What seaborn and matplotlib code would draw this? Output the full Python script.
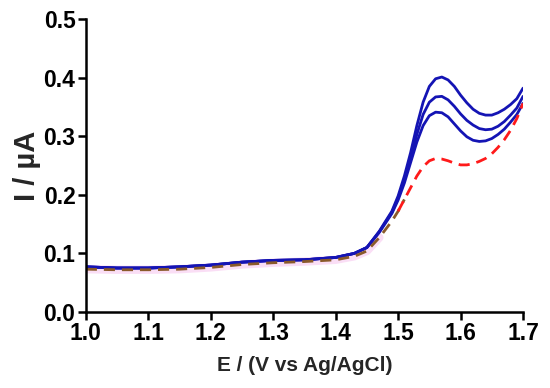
import matplotlib
matplotlib.use("Agg")
import matplotlib.pyplot as plt
import seaborn as sns
import pandas as pd

sns.set_theme(style="ticks")
plt.rcParams['font.family'] = ['Liberation Sans', 'DejaVu Sans']
plt.rcParams['font.weight'] = 'bold'

# potential (V vs Ag/AgCl)
E = [1.00, 1.05, 1.10, 1.15, 1.20, 1.25, 1.30, 1.35, 1.40, 1.43, 1.45, 1.47,
     1.49, 1.50, 1.51, 1.52, 1.53, 1.54, 1.55, 1.56, 1.57, 1.58, 1.59, 1.60,
     1.61, 1.62, 1.63, 1.64, 1.65, 1.66, 1.67, 1.68, 1.69, 1.70]

blue_top = [0.077, 0.075, 0.075, 0.077, 0.080, 0.085, 0.088, 0.089, 0.093, 0.100,
            0.110, 0.138, 0.172, 0.198, 0.232, 0.272, 0.318, 0.358, 0.385, 0.398,
            0.401, 0.396, 0.385, 0.370, 0.357, 0.346, 0.339, 0.336, 0.336, 0.340,
            0.346, 0.354, 0.364, 0.382]
blue_mid = [0.077, 0.075, 0.075, 0.077, 0.080, 0.085, 0.088, 0.089, 0.093, 0.100,
            0.110, 0.137, 0.170, 0.194, 0.226, 0.263, 0.303, 0.337, 0.358, 0.367,
            0.368, 0.362, 0.351, 0.338, 0.327, 0.319, 0.313, 0.311, 0.312, 0.317,
            0.325, 0.336, 0.348, 0.368]
blue_low = [0.077, 0.075, 0.075, 0.077, 0.080, 0.085, 0.088, 0.089, 0.093, 0.100,
            0.110, 0.136, 0.168, 0.191, 0.220, 0.255, 0.290, 0.318, 0.335, 0.341,
            0.340, 0.333, 0.321, 0.309, 0.299, 0.293, 0.291, 0.292, 0.296, 0.303,
            0.312, 0.324, 0.337, 0.356]
red = [0.073, 0.072, 0.072, 0.073, 0.076, 0.081, 0.084, 0.086, 0.089, 0.095,
       0.104, 0.127, 0.155, 0.172, 0.192, 0.212, 0.232, 0.248, 0.258, 0.262,
       0.261, 0.258, 0.254, 0.251, 0.251, 0.253, 0.257, 0.262, 0.270, 0.281,
       0.294, 0.310, 0.330, 0.356]

curves = {"a": blue_top, "b": blue_mid, "c": blue_low}
frames = [pd.DataFrame({"E": E, "I": v, "curve": k}) for k, v in curves.items()]
blue_df = pd.concat(frames)
red_df = pd.DataFrame({"E": E, "I": red})

fig = plt.figure(figsize=(5.5, 3.88), dpi=100)
ax = fig.add_axes([0.156, 0.196, 0.795, 0.755])

# faint pink halo along the baseline
sns.lineplot(data=red_df[red_df["E"] <= 1.47], x="E", y="I", color="#f7c8ef",
             linewidth=6, alpha=0.6, ax=ax, legend=False)
sns.lineplot(data=blue_df, x="E", y="I", units="curve", estimator=None,
             color="#1414b4", linewidth=2, ax=ax, legend=False)
sns.lineplot(data=red_df[red_df["E"] <= 1.51], x="E", y="I", color="#8a5a2a",
             linewidth=2, dashes=(4, 2.5), ax=ax, legend=False)
sns.lineplot(data=red_df[red_df["E"] >= 1.50], x="E", y="I", color="#ff1a1a",
             linewidth=2, dashes=(4, 2.5), ax=ax, legend=False)

ax.set_xlim(1.0, 1.7)
ax.set_ylim(0.0, 0.5)
ax.set_xticks([1.0, 1.1, 1.2, 1.3, 1.4, 1.5, 1.6, 1.7])
ax.set_yticks([0.0, 0.1, 0.2, 0.3, 0.4, 0.5])
ax.set_xticklabels(["1.0", "1.1", "1.2", "1.3", "1.4", "1.5", "1.6", "1.7"])
ax.set_yticklabels(["0.0", "0.1", "0.2", "0.3", "0.4", "0.5"])
ax.tick_params(axis="both", labelsize=16.5, width=1.8, length=6, color="black",
               labelcolor="black", pad=1.5)
for lab in ax.get_xticklabels() + ax.get_yticklabels():
    lab.set_fontweight("bold")
for s in ["left", "bottom"]:
    ax.spines[s].set_linewidth(1.8)
    ax.spines[s].set_color("black")
sns.despine(ax=ax)

ax.set_xlabel("E / (V vs Ag/AgCl)", fontsize=15, fontweight="bold", labelpad=8)
ax.set_ylabel("I / µA", fontsize=21, fontweight="bold", labelpad=2)

fig.savefig("out.png", dpi=100)
